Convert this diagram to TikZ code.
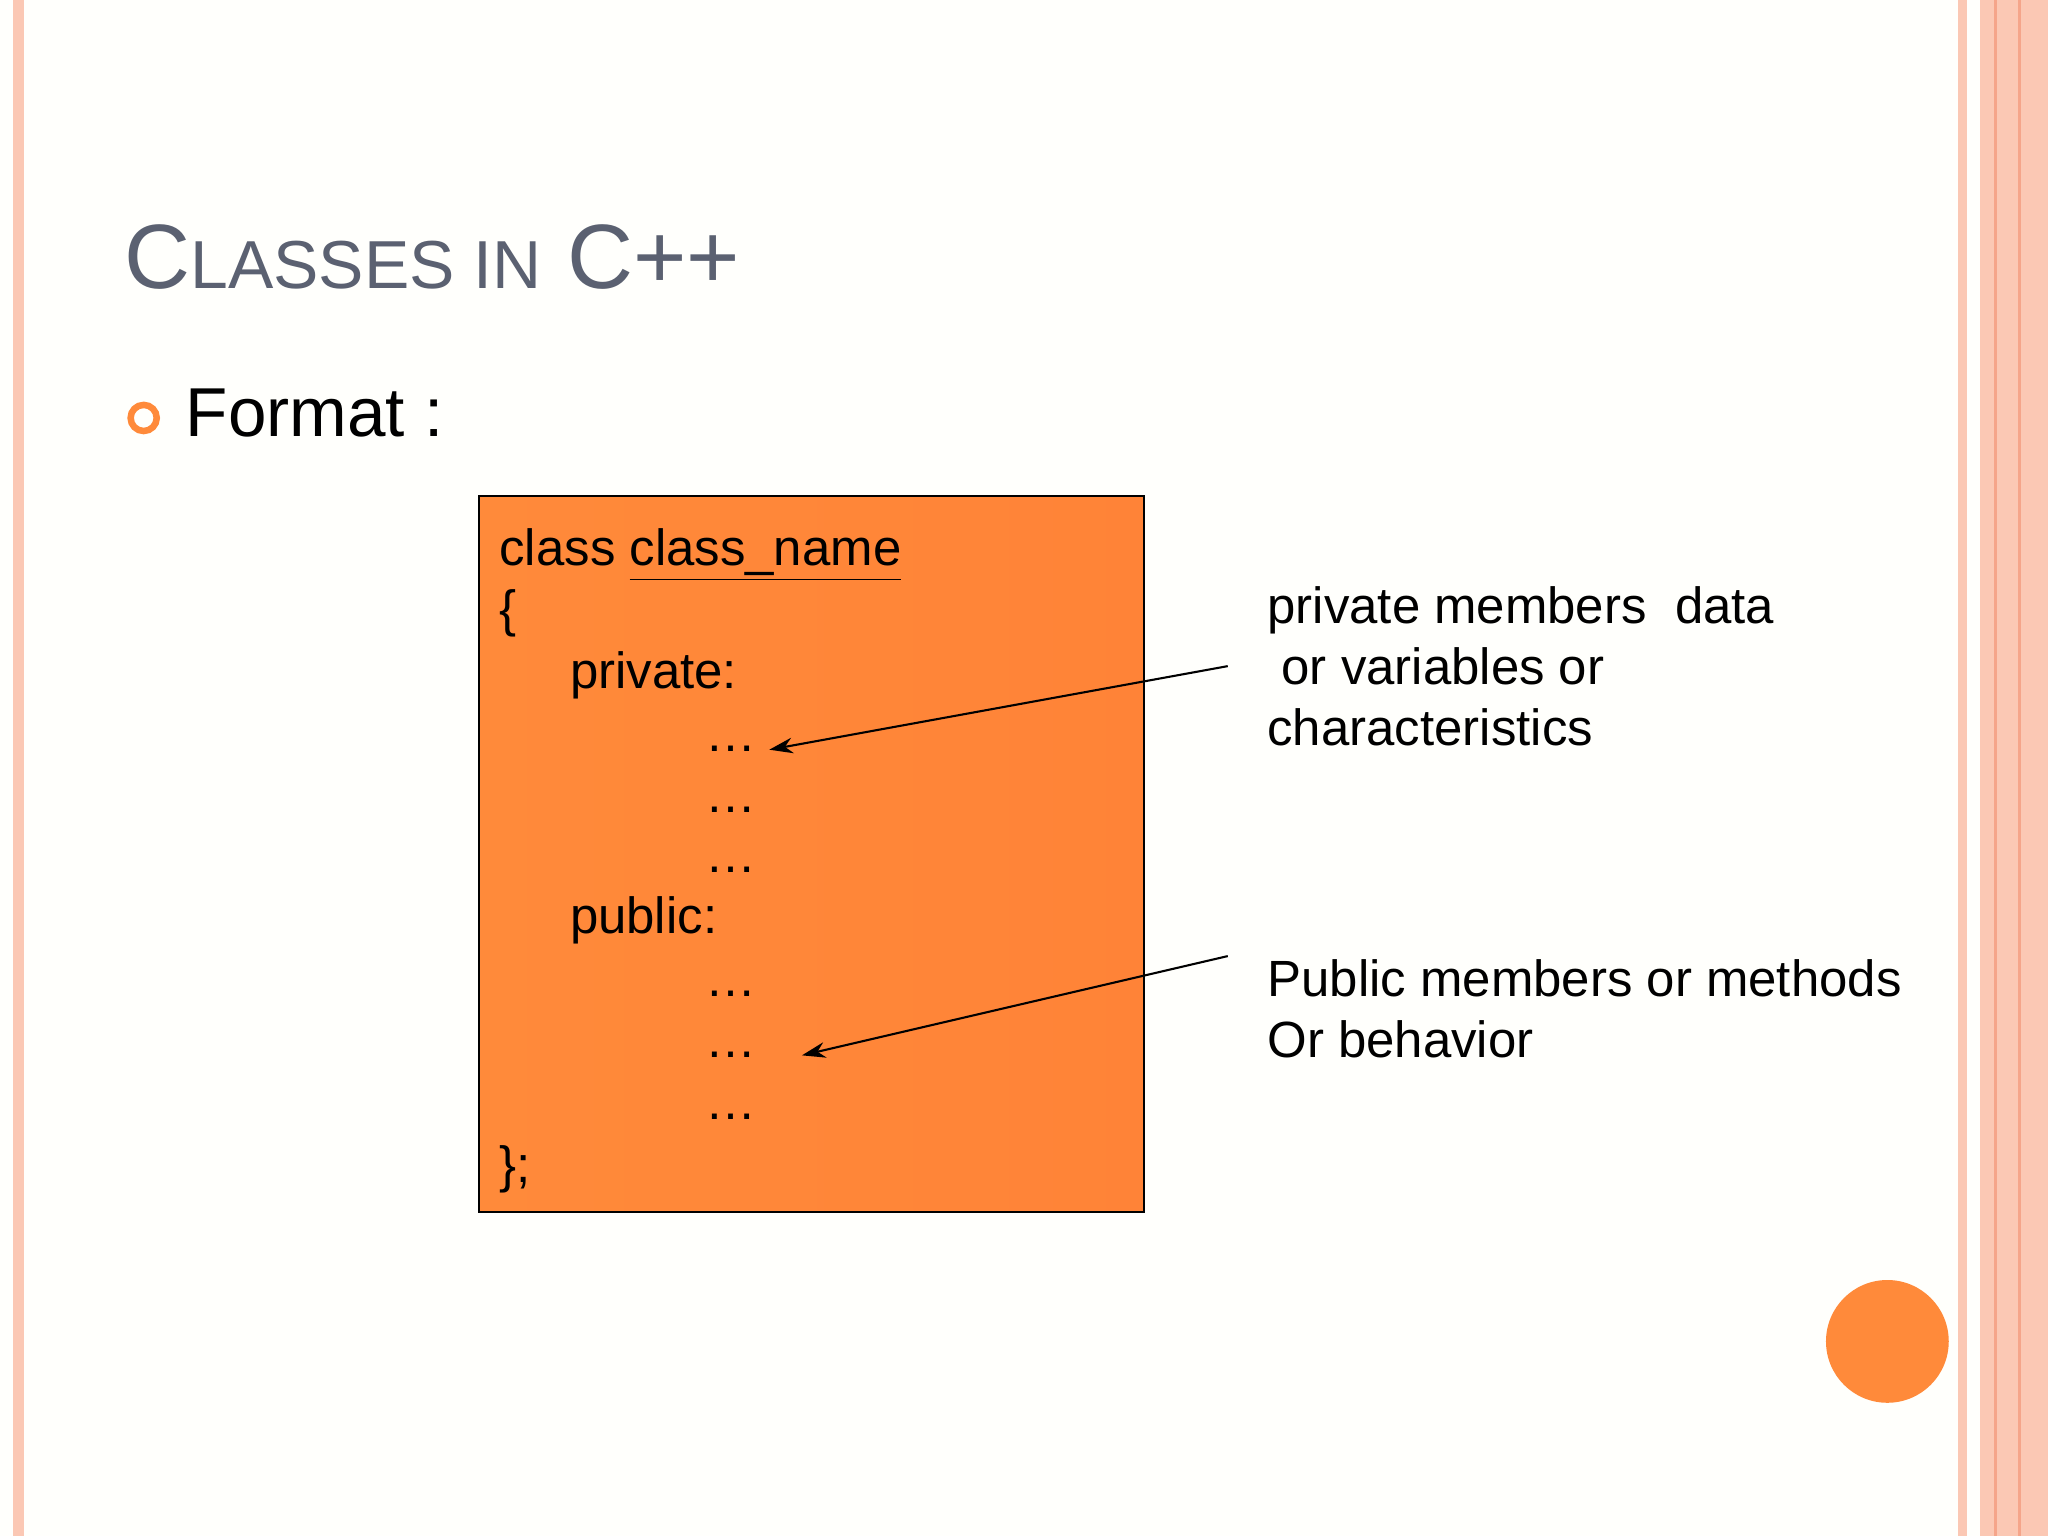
\documentclass[tikz,border=0pt]{standalone}
\usepackage{fontspec}
\setmainfont{Liberation Sans}
\usetikzlibrary{arrows.meta}
\definecolor{bg}{HTML}{FFFFFC}
\definecolor{pinkl}{HTML}{FBC8B4}
\definecolor{pinkd}{HTML}{F5A58A}
\definecolor{org}{HTML}{FF8A3A}
\definecolor{titlec}{HTML}{5B6171}
\tikzset{code/.style={anchor=base west,inner sep=0pt,font=\fontsize{19.5}{22}\selectfont},
 side/.style={anchor=base west,inner sep=0pt,font=\fontsize{19.5}{22}\selectfont},
 arr/.style={-{Stealth[length=9pt,width=6pt]},line width=0.8pt}}
\begin{document}
\begin{tikzpicture}[x=0.5pt,y=-0.5pt]
\useasboundingbox (0,0) rectangle (1568,1176);
\fill[bg] (0,0) rectangle (1568,1176);
% borders
\fill[pinkl] (10,0) rectangle (18,1176);
\fill[pinkl] (1499,0) rectangle (1506,1176);
\fill[pinkl] (1516,0) rectangle (1568,1176);
\draw[pinkd,line width=1pt] (1528,0) -- (1528,1176);
\draw[pinkd,line width=1pt] (1546,0) -- (1546,1176);
% title
\node[anchor=base west,inner sep=0pt,text=titlec,font=\fontsize{35}{40}\selectfont] (title) at (95,221) {C{\fontsize{26}{30}\selectfont LASSES IN} C++};
\draw[org,line width=2.5pt] (110,320) circle[radius=10];
\node[anchor=base west,inner sep=0pt,font=\fontsize{26.5}{30}\selectfont] (fmt) at (142,334) {Format :};
% box
\node[draw=black,line width=0.8pt,left color=org,right color=org!95!red,minimum width=254.5pt,minimum height=274pt,inner sep=0pt,anchor=north west] (box) at (366,379) {};
\node[code] (l1) at (382,433) {class \underline{class\_name}};
\node[code] (l2) at (382,480) {\{};
\node[code] (l3) at (436,527) {private:};
\node[code] (d1) at (540,575) {\dots};
\node[code] (d2) at (540,622) {\dots};
\node[code] (d3) at (540,668) {\dots};
\node[code] (l4) at (436,715) {public:};
\node[code] (d4) at (540,763) {\dots};
\node[code] (d5) at (540,810) {\dots};
\node[code] (d6) at (540,857) {\dots};
\node[code] (l5) at (382,905) {\};};
% side texts
\node[side] (p1) at (970,477) {private members\ \ data};
\node[side] (p2) at (970,524) {\ or variables or};
\node[side] (p3) at (970,571) {characteristics};
\node[side] (q1) at (970,763) {Public members or methods};
\node[side] (q2) at (970,810) {Or behavior};
\coordinate (a1s) at (940,510);
\coordinate (a1e) at (589,574);
\coordinate (a2s) at (940,732);
\coordinate (a2e) at (614,808);
\draw[arr] (a1s) -- (a1e);
\draw[arr] (a2s) -- (a2e);
\fill[org] (1445,1027) circle[radius=47] node (dot) {};
\end{tikzpicture}
\end{document}
